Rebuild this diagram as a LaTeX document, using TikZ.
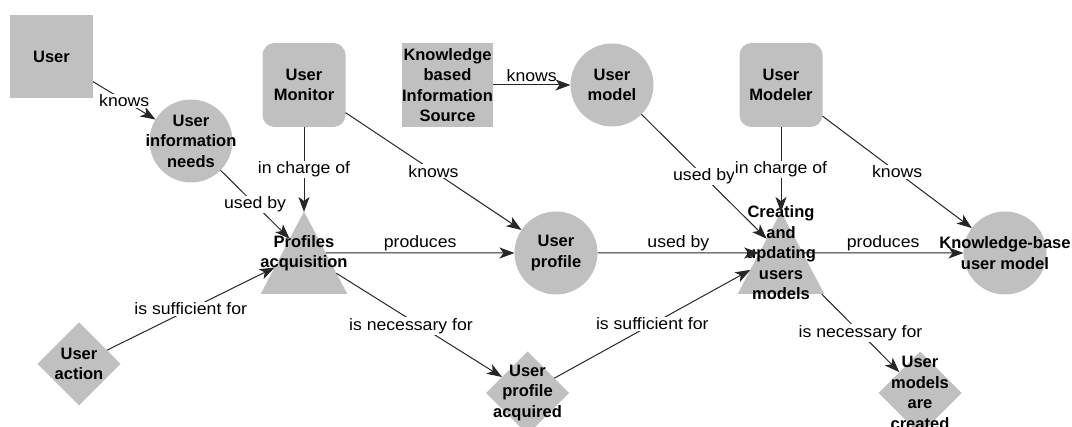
\documentclass[tikz,border=0pt]{standalone}
\usepackage{fontspec}
\setmainfont{Liberation Sans}
\newfontfamily\relfont[FakeStretch=1.07]{Liberation Sans}
\usetikzlibrary{shapes.geometric,arrows.meta}
\definecolor{shapegray}{RGB}{192,192,192}
\begin{document}
\begin{tikzpicture}[x=1pt,y=-1pt,
  base/.style={fill=shapegray, draw=none, inner sep=0pt, outer sep=0pt},
  box/.style={base, rectangle, minimum width=83pt, minimum height=83pt},
  agent/.style={base, rectangle, rounded corners=12pt, minimum width=83pt, minimum height=84pt},
  concept/.style={base, circle, minimum size=83pt},
  process/.style={base, trapezium, trapezium left angle=62.3, trapezium right angle=62.3,
    minimum width=0pt, minimum height=0pt},
  state/.style={base, diamond, minimum width=83pt, minimum height=83pt},
  ntext/.style={font=\fontsize{16.5}{20.5}\selectfont\bfseries, align=center, inner sep=0pt},
  rel/.style={draw=black!85, line width=1pt, -{Stealth[length=15pt,width=11pt,inset=4pt]}},
  rlab/.style={font=\relfont\fontsize{16.5}{19}\selectfont, fill=white, inner sep=1pt},
  rlabup/.style={font=\relfont\fontsize{16.5}{19}\selectfont, above, inner sep=2pt},
]
\useasboundingbox (0,0) rectangle (1072,427);

% shapes
\node[box] (user) at (51.5,56.5) {};
\node[concept] (uin) at (191,141) {};
\node[agent] (umon) at (304,85) {};
\node[box, minimum width=91pt, minimum height=84pt] (kbis) at (447.5,85) {};
\node[concept] (umod) at (612,85) {};
\node[agent] (umodeler) at (781,85) {};
\node[process] (pa) at (304,253) {\rule{0pt}{82pt}\kern0.5pt};
\node[concept] (uprof) at (556,253) {};
\node[process] (cu) at (781,253) {\rule{0pt}{82pt}\kern0.5pt};
\node[concept] (kbum) at (1005,253) {};
\node[state] (uact) at (79,364) {};
\node[state] (upa) at (527.5,393) {};
\node[state] (umac) at (920,393) {};

% texts
\node[ntext] (user-t) at (user) {User};
\node[ntext] (uin-t) at (uin) {User\\information\\needs};
\node[ntext] (umon-t) at (umon) {User\\Monitor};
\node[ntext] (kbis-t) at (kbis) {Knowledge\\based\\Information\\Source};
\node[ntext] (umod-t) at (umod) {User\\model};
\node[ntext] (umodeler-t) at (umodeler) {User\\Modeler};
\node[ntext] (pa-t) at (pa) {Profiles\\acquisition};
\node[ntext] (uprof-t) at (uprof) {User\\profile};
\node[ntext] (cu-t) at (cu) {Creating\\and\\updating\\users\\models};
\node[ntext] (kbum-t) at (kbum) {Knowledge-base\\user model};
\node[ntext] (uact-t) at (uact) {User\\action};
\node[ntext] (upa-t) at (upa) {User\\profile\\acquired};
\node[ntext] (umac-t) at (umac) {User\\models\\are\\created};

% relations
\draw[rel] (user) -- node[rlab] {knows} (uin);
\draw[rel] (uin) -- node[rlab] {used by} (pa);
\draw[rel] (umon) -- node[rlab] {in charge of} (pa);
\draw[rel] (umon) -- node[rlab] {knows} (uprof);
\draw[rel] (kbis) -- node[rlabup, inner sep=3pt] {knows} (umod);
\draw[rel] (umod) -- node[rlab] {used by} (cu);
\draw[rel] (umodeler) -- node[rlab] {in charge of} (cu);
\draw[rel] (umodeler) -- node[rlab] {knows} (kbum);
\draw[rel] (pa) -- node[rlabup] {produces} (uprof);
\draw[rel] (uprof) -- node[rlabup] {used by} (cu);
\draw[rel] (cu) -- node[rlabup] {produces} (kbum);
\draw[rel] (uact) -- node[rlab] {is sufficient for} (pa);
\draw[rel] (pa) -- node[rlab, pos=0.45, yshift=-6pt] {is necessary for} (upa);
\draw[rel] (upa) -- node[rlab] {is sufficient for} (cu);
\draw[rel] (cu) -- node[rlab] {is necessary for} (umac);
\end{tikzpicture}
\end{document}
